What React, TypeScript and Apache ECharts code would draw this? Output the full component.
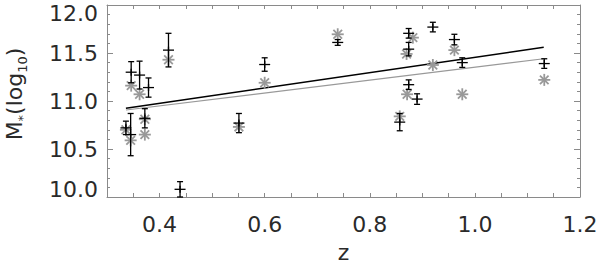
import React, { useEffect, useRef } from "react";
import * as echarts from "echarts";

// Black crosses with error bars: [z, log M*, error]
const blackZ = [0.336, 0.345, 0.346, 0.362, 0.372, 0.379, 0.417, 0.439, 0.551, 0.6, 0.739, 0.857, 0.874, 0.874, 0.874, 0.89, 0.92, 0.961, 0.976, 1.132];
const blackM = [10.72, 10.65, 11.3, 11.27, 10.82, 11.14, 11.53, 10.08, 10.77, 11.38, 11.61, 10.78, 11.705, 11.54, 11.17, 11.02, 11.77, 11.64, 11.4, 11.39];
const blackErr = [0.07, 0.22, 0.11, 0.145, 0.1, 0.1, 0.175, 0.08, 0.1, 0.07, 0.03, 0.09, 0.05, 0.07, 0.05, 0.055, 0.05, 0.055, 0.05, 0.05];

// Grey asterisks
const greyZ = [0.336, 0.345, 0.346, 0.362, 0.372, 0.372, 0.417, 0.551, 0.6, 0.739, 0.857, 0.882, 0.87, 0.871, 0.92, 0.961, 0.976, 1.132];
const greyM = [10.7, 10.59, 11.16, 11.07, 10.81, 10.65, 11.43, 10.73, 11.19, 11.695, 10.84, 11.66, 11.49, 11.07, 11.375, 11.53, 11.07, 11.22];

// Fit lines
const fitZ = [0.336, 1.131];
const blackFit = [10.924, 11.559];
const greyFit = [10.906, 11.44];

const xTicks = [0.4, 0.6, 0.8, 1.0, 1.2];

const FONT = "DejaVu Sans";

export default function App() {
  const ref = useRef<HTMLDivElement>(null);
  useEffect(() => {
    if (!ref.current) return;
    const chart = echarts.init(ref.current, undefined, { renderer: "svg" });
    const frame = "#8a8a8a";
    const labelColor = "#2a2a2a";
    const xBase = {
      type: "value" as const,
      min: 0.3,
      max: 1.2,
      interval: 0.05,
      splitLine: { show: false },
      axisLine: { show: true, lineStyle: { color: frame, width: 1 } },
      axisTick: { show: true, inside: true, length: 4, lineStyle: { color: frame } },
    };
    const yBase = {
      type: "value" as const,
      min: 10,
      max: 12,
      interval: 0.5,
      splitLine: { show: false },
      axisLine: { show: true, lineStyle: { color: frame, width: 1 } },
      axisTick: { show: true, inside: true, length: 6, lineStyle: { color: frame } },
      minorTick: { show: true, splitNumber: 5, length: 3, lineStyle: { color: frame } },
    };
    chart.setOption({
      animation: false,
      backgroundColor: "#fff",
      grid: { left: 107, right: 20, top: 5, bottom: 69, show: false, containLabel: false, outerBoundsMode: "none" },
      xAxis: [
        {
          ...xBase,
          position: "bottom",
          name: "z",
          nameLocation: "middle",
          nameGap: 45,
          nameTextStyle: { fontFamily: FONT, fontSize: 22, lineHeight: 20, color: labelColor },
          axisLabel: {
            show: true,
            margin: 16,
            fontFamily: FONT,
            fontSize: 22,
            color: labelColor,
            formatter: (v: number) => {
              const k = Math.round(v * 100);
              return xTicks.some((t) => Math.round(t * 100) === k) ? v.toFixed(1) : "";
            },
          },
        },
        { ...xBase, position: "top", axisLabel: { show: false } },
      ],
      yAxis: [
        {
          ...yBase,
          position: "left",
          name: "{m|M}{s|*}{m|(log}{s|10}{m|)}",
          nameLocation: "middle",
          nameGap: 78,
          nameRotate: 90,
          nameTextStyle: {
            fontFamily: FONT,
            fontSize: 22,
            color: labelColor,
            padding: [0, 0, 0, 14],
            rich: {
              m: { fontFamily: FONT, fontSize: 22, color: labelColor, lineHeight: 30, verticalAlign: "middle" },
              s: { fontFamily: FONT, fontSize: 13, color: labelColor, lineHeight: 30, verticalAlign: "bottom" },
            },
          },
          axisLabel: {
            show: true,
            margin: 9,
            fontFamily: FONT,
            fontSize: 22,
            lineHeight: 16,
            color: labelColor,
            formatter: (v: number) => v.toFixed(1),
            verticalAlignMaxLabel: "top",
            verticalAlignMinLabel: "bottom",
          },
        },
        { ...yBase, position: "right", axisLabel: { show: false } },
      ],
      series: [
        {
          type: "line",
          data: fitZ.map((z, i) => [z, greyFit[i]]),
          symbol: "none",
          lineStyle: { color: "#999", width: 1.2 },
          z: 2,
        },
        {
          type: "line",
          data: fitZ.map((z, i) => [z, blackFit[i]]),
          symbol: "none",
          lineStyle: { color: "#000", width: 1.5 },
          z: 3,
        },
        {
          type: "custom",
          data: greyZ.map((z, i) => [z, greyM[i]]),
          encode: { x: 0, y: 1 },
          z: 4,
          renderItem: (params: any, api: any) => {
            const c = api.coord([api.value(0), api.value(1)]);
            const r = 6;
            const d = r * 0.72;
            const st = { stroke: "#999", lineWidth: 1.8 };
            return {
              type: "group",
              children: [
                { type: "line", shape: { x1: c[0] - r, y1: c[1], x2: c[0] + r, y2: c[1] }, style: st },
                { type: "line", shape: { x1: c[0], y1: c[1] - r, x2: c[0], y2: c[1] + r }, style: st },
                { type: "line", shape: { x1: c[0] - d, y1: c[1] - d, x2: c[0] + d, y2: c[1] + d }, style: st },
                { type: "line", shape: { x1: c[0] - d, y1: c[1] + d, x2: c[0] + d, y2: c[1] - d }, style: st },
              ],
            };
          },
        },
        {
          type: "custom",
          data: blackZ.map((z, i) => [z, blackM[i], blackErr[i]]),
          encode: { x: 0, y: 1 },
          z: 5,
          renderItem: (params: any, api: any) => {
            const x = api.value(0);
            const y = api.value(1);
            const e = api.value(2);
            const c = api.coord([x, y]);
            const hi = api.coord([x, y + e]);
            const lo = api.coord([x, y - e]);
            const st = { stroke: "#000", lineWidth: 1.3 };
            const arm = 5.5;
            const cap = 3;
            return {
              type: "group",
              children: [
                { type: "line", shape: { x1: c[0] - arm, y1: c[1], x2: c[0] + arm, y2: c[1] }, style: st },
                { type: "line", shape: { x1: c[0], y1: c[1] - 3.5, x2: c[0], y2: c[1] + 3.5 }, style: st },
                { type: "line", shape: { x1: c[0], y1: hi[1], x2: c[0], y2: lo[1] }, style: st },
                { type: "line", shape: { x1: c[0] - cap, y1: hi[1], x2: c[0] + cap, y2: hi[1] }, style: st },
                { type: "line", shape: { x1: c[0] - cap, y1: lo[1], x2: c[0] + cap, y2: lo[1] }, style: st },
              ],
            };
          },
        },
      ],
    });
    return () => chart.dispose();
  }, []);
  return <div ref={ref} style={{ position: "absolute", left: 0, top: 0, width: 600, height: 266 }} />;
}
